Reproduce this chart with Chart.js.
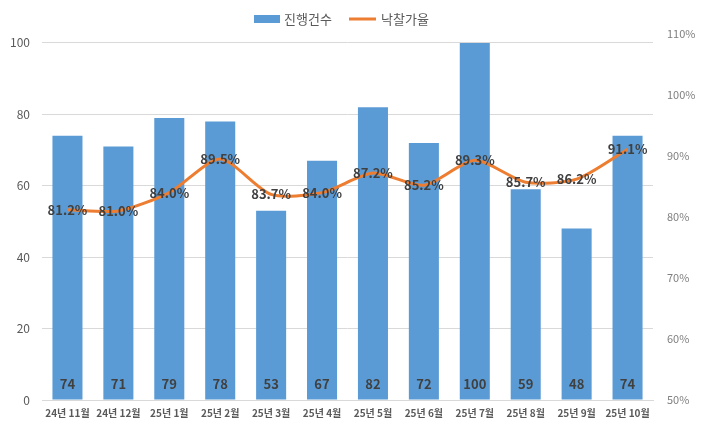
<!DOCTYPE html>
<html><head><meta charset="utf-8">
<script src="https://cdn.jsdelivr.net/npm/chart.js@4/dist/chart.umd.min.js"></script>
<style>html,body{margin:0;padding:0;background:#fff}#wrap{width:715px;height:433px}</style>
</head><body><div id="wrap"><canvas id="c" width="715" height="433"></canvas></div>
<script>
const categories = ["24년 11월","24년 12월","25년 1월","25년 2월","25년 3월","25년 4월","25년 5월","25년 6월","25년 7월","25년 8월","25년 9월","25년 10월"];
const counts = [74,71,79,78,53,67,82,72,100,59,48,74];
const rates = [81.2,81.0,84.0,89.5,83.7,84.0,87.2,85.2,89.3,85.7,86.2,91.1];
const leftTicks = [0,20,40,60,80,100];
const rightTicks = [50,60,70,80,90,100,110];
const seriesNames = ["진행건수","낙찰가율"];

const FONT = "'Noto Sans CJK KR','Noto Sans',sans-serif";
const BLUE = "#5B9BD5", ORANGE = "#ED7D31";

const labelPlugin = {
  id: 'labels',
  afterDatasetsDraw(chart) {
    const ctx = chart.ctx;
    ctx.save();
    ctx.textAlign = 'center';
    ctx.textBaseline = 'middle';
    ctx.fillStyle = '#404040';
    ctx.font = "bold 13px " + FONT;
    const yb = chart.scales.y.getPixelForValue(0);
    chart.getDatasetMeta(1).data.forEach((el, i) => {
      ctx.fillText(String(counts[i]), el.x, yb - 16);
    });
    chart.getDatasetMeta(0).data.forEach((el, i) => {
      ctx.fillText(rates[i].toFixed(1) + '%', el.x, el.y);
    });
    // legend
    ctx.textAlign = 'left';
    ctx.font = "13px " + FONT;
    ctx.fillStyle = '#595959';
    ctx.fillStyle = BLUE;
    ctx.fillRect(254, 15, 26, 8);
    ctx.fillStyle = '#595959';
    ctx.fillText(seriesNames[0], 284, 19);
    ctx.strokeStyle = ORANGE; ctx.lineWidth = 3;
    ctx.beginPath(); ctx.moveTo(349, 19); ctx.lineTo(376, 19); ctx.stroke();
    ctx.fillText(seriesNames[1], 381, 19);
    ctx.restore();
  }
};

new Chart(document.getElementById('c'), {
  data: {
    labels: categories,
    datasets: [
      { type: 'line', label: seriesNames[1], data: rates, yAxisID: 'y1', borderColor: ORANGE, borderWidth: 3,
        pointRadius: 0, tension: 0.25, order: 0 },
      { type: 'bar', label: seriesNames[0], data: counts, yAxisID: 'y', backgroundColor: BLUE,
        barPercentage: 0.59, categoryPercentage: 1.0, order: 1 }
    ]
  },
  options: {
    responsive: false, animation: false,
    layout: { padding: { top: 34, left: 0, right: 0, bottom: 0 } },
    plugins: { legend: { display: false }, tooltip: { enabled: false } },
    scales: {
      x: {
        grid: { display: false, drawTicks: false },
        border: { display: true, color: '#d9d9d9', width: 1 },
        ticks: { color: '#595959', font: { family: FONT, size: 10, weight: 'bold' }, padding: 7, maxRotation: 0, autoSkip: false },
        afterFit(s) { s.height = 33; }
      },
      y: {
        position: 'left', min: 0, max: 102.5,
        afterBuildTicks(s) { s.ticks = leftTicks.map(v => ({ value: v })); },
        grid: { color: '#d9d9d9', drawTicks: false },
        border: { display: false },
        ticks: { color: '#595959', font: { family: FONT, size: 12 }, padding: 12 },
        afterFit(s) { s.width = 42; }
      },
      y1: {
        position: 'right', min: 50, max: 110,
        afterBuildTicks(s) { s.ticks = rightTicks.map(v => ({ value: v })); },
        grid: { display: false, drawTicks: false },
        border: { display: false },
        ticks: { color: '#7f7f7f', font: { family: FONT, size: 11 }, padding: 14, callback: v => v + '%' },
        afterFit(s) { s.width = 62; }
      }
    }
  },
  plugins: [labelPlugin]
});
</script></body></html>
